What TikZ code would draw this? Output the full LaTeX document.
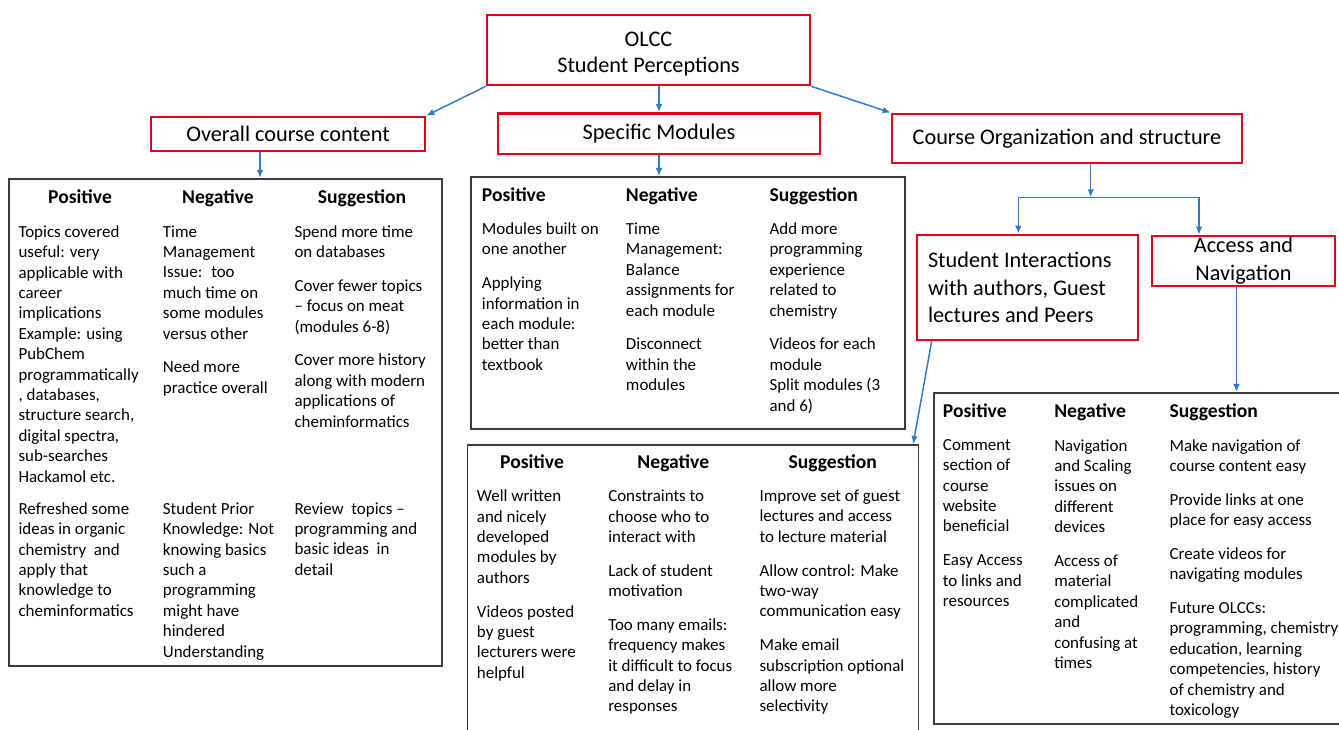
\documentclass[tikz,border=0pt]{standalone}
\usepackage{fontspec}
\setmainfont{Carlito}
\usetikzlibrary{arrows.meta}
\definecolor{boxred}{RGB}{226,0,26}
\definecolor{linkblue}{RGB}{52,120,200}
\definecolor{framegray}{RGB}{60,60,60}

\begin{document}
\begin{tikzpicture}[x=0.75pt, y=-0.75pt,
		topic/.style={draw=boxred, line width=2pt, inner sep=0pt, align=center, font=\fontsize{16.7}{20.5}\selectfont},
		panel/.style={draw=framegray, line width=1.25pt, inner sep=0pt, anchor=north west},
		head/.style={inner sep=0pt, anchor=base, font=\fontsize{14.7}{18}\selectfont\bfseries},
		cell/.style={inner sep=0pt, anchor=north west, align=left, font=\fontsize{12.7}{15.3}\selectfont, execute at begin node=\strut},
		link/.style={draw=linkblue, line width=1.1pt},
		arr/.style={link, -{Latex[length=6pt,width=5pt]}}]
				\useasboundingbox (0,0) rectangle (1339,730);
				\clip (0,0) rectangle (1339,730);
				
				\node[topic, minimum width=242.25pt, minimum height=52.5pt, font=\fontsize{16.7}{19.3}\selectfont] (olcc) at (648.5,50) {\rule{0pt}{16.5pt}OLCC\\Student Perceptions};
				\node[topic, minimum width=205.5pt, minimum height=25.5pt] (overall) at (288,134) {Overall course content};
				\node[topic, minimum width=241.5pt, minimum height=30.5pt] (modules) at (659,133.7) {Specific Modules};
				\node[topic, minimum width=262.5pt, minimum height=36.75pt] (organization) at (1067,138.5) {Course Organization and structure};
				\node[topic, minimum height=78.75pt, inner xsep=8.25pt, text width=149.25pt, align=flush left] (interact) at (1027.5,287.5) {Student Interactions\\with authors, Guest\\lectures and Peers};
				\node[topic, minimum width=137.25pt, minimum height=37.5pt, font=\fontsize{16.7}{21}\selectfont] (access) at (1243.5,261) {Access and\\Navigation};
				
				\node[panel, minimum width=324.75pt, minimum height=365.25pt] (tabA) at (8,178) {};
				\node[panel, minimum width=325.5pt, minimum height=189pt] (tabB) at (470,176) {};
				\node[panel, minimum width=338.25pt, minimum height=240pt] (tabC) at (466.5,444) {};
				\node[panel, minimum width=330pt, minimum height=248.25pt] (tabD) at (933,392) {};
				
				\node[head] (posA) at (80,204) {Positive};
				\node[head] (negA) at (218,204) {Negative};
				\node[head] (sugA) at (362,204) {Suggestion};
				\node[cell] (posA1) at (18.3,225.2) {Topics covered\\useful: very\\applicable with\\career\\implications\\Example: using\\PubChem\\programmatically\\, databases,\\structure search,\\digital spectra,\\sub-searches\\Hackamol etc.};
				\node[cell] (negA1) at (162.7,225.2) {Time\\Management\\Issue:~ too\\much time on\\some modules\\versus other\\[10pt]Need more\\practice overall};
				\node[cell] (sugA1) at (294.3,225.2) {Spend more time\\on databases\\[10pt]Cover fewer topics\\– focus on meat\\(modules 6-8)\\[10pt]Cover more history\\along with modern\\applications of\\cheminformatics};
				\node[cell] (posA2) at (18.3,502.2) {Refreshed some\\ideas in organic\\chemistry~ and\\apply that\\knowledge to\\cheminformatics};
				\node[cell] (negA2) at (162.7,502.2) {Student Prior\\Knowledge: Not\\knowing basics\\such a\\programming\\might have\\hindered\\Understanding};
				\node[cell] (sugA2) at (294.3,502.2) {Review~ topics –\\programming and\\basic ideas~ in\\detail};
				
				\node[head, anchor=base west] (posB) at (481.7,201.5) {Positive};
				\node[head, anchor=base west] (negB) at (625.7,201.5) {Negative};
				\node[head, anchor=base west] (sugB) at (769.3,201.5) {Suggestion};
				\node[cell] (posB1) at (481.7,222.5) {Modules built on\\one another\\[10pt]Applying\\information in\\each module:\\better than\\textbook};
				\node[cell] (negB1) at (625.7,222.5) {Time\\Management:\\Balance\\assignments for\\each module\\[10pt]Disconnect\\within the\\modules};
				\node[cell] (sugB1) at (769.3,222.5) {Add more\\programming\\experience\\related to\\chemistry\\[10pt]Videos for each\\module\\Split modules (3\\and 6)};
				
				\node[head] (posC) at (532,469) {Positive};
				\node[head] (negC) at (673.3,469) {Negative};
				\node[head] (sugC) at (832.8,469) {Suggestion};
				\node[cell] (posC1) at (476.7,489.7) {Well written\\and nicely\\developed\\modules by\\authors\\[10pt]Videos posted\\by guest\\lecturers were\\helpful};
				\node[cell] (negC1) at (608,489.7) {Constraints to\\choose who to\\interact with\\[10pt]Lack of student\\motivation\\[10pt]Too many emails:\\frequency makes\\it difficult to focus\\and delay in\\responses};
				\node[cell] (sugC1) at (759.3,489.7) {Improve set of guest\\lectures and access\\to lecture material\\[10pt]Allow control: Make\\two-way\\communication easy\\[10pt]Make email\\subscription optional\\allow more\\selectivity};
				
				\node[head, anchor=base west] (posD) at (942.7,418) {Positive};
				\node[head, anchor=base west] (negD) at (1054,418) {Negative};
				\node[head, anchor=base west] (sugD) at (1169.3,418) {Suggestion};
				\node[cell] (posD1) at (942.7,439.1) {Comment\\section of\\course\\website\\beneficial\\[10pt]Easy Access\\to links and\\resources};
				\node[cell] (negD1) at (1054,439.1) {Navigation\\and Scaling\\issues on\\different\\devices\\[10pt]Access of\\material\\complicated\\and\\confusing at\\times};
				\node[cell] (sugD1) at (1169.3,439.1) {Make navigation of\\course content easy\\[10pt]Provide links at one\\place for easy access\\[10pt]Create videos for\\navigating modules\\[10pt]Future OLCCs:\\programming, chemistry\\education, learning\\competencies, history\\of chemistry and\\toxicology};
				
				\coordinate (fork) at (1090.7,197.3);
				\coordinate (forkL) at (1018.3,197.3);
				\coordinate (forkR) at (1199,197.3);
				
				\draw[arr] (olcc.south west) -- (overall.north east);
				\draw[arr] (modules.north |- olcc.south) -- (modules.north);
				\draw[arr] (olcc.south east) -- (organization.north west);
				\draw[arr] ([xshift=-21pt]overall.south) -- ([xshift=-21pt]overall.south |- tabA.north);
				\draw[arr] (modules.south) -- (modules.south |- tabB.north);
				\draw[arr] (organization.south -| fork) -- (fork);
				\draw[link] (forkL) -- (forkR);
				\draw[arr] (forkL) -- (forkL |- interact.north);
				\draw[arr] (forkR) -- (forkR |- access.north);
				\draw[arr] ([xshift=12pt]interact.south west) -- ([xshift=-4.5pt]tabC.north east);
				\draw[arr] ([xshift=-5.25pt]access.south) -- ([xshift=-5.25pt]access.south |- tabD.north);
			\end{tikzpicture}
\end{document}
